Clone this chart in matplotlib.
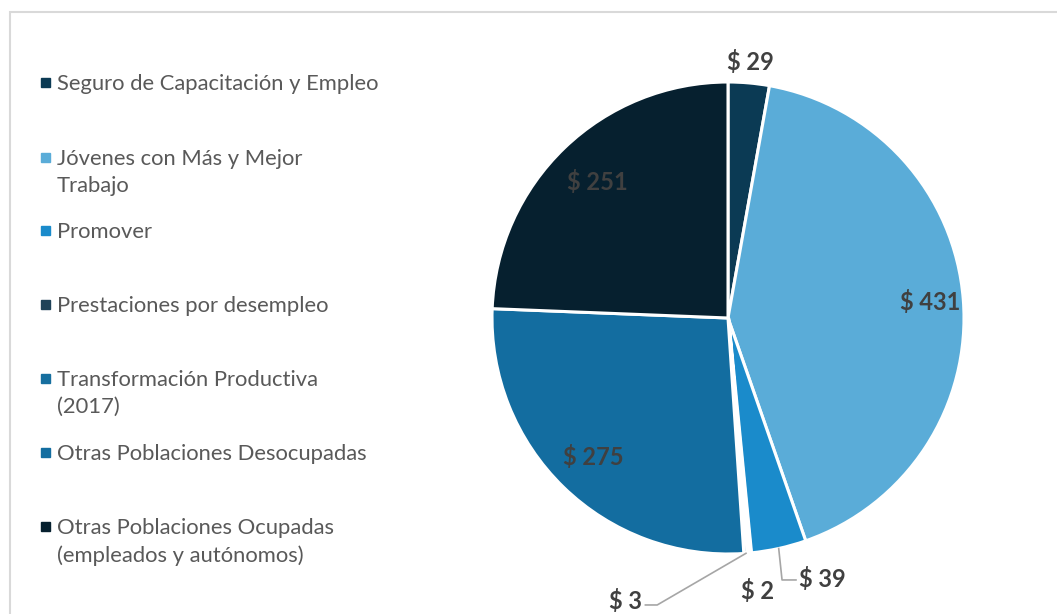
import numpy as np
import matplotlib.pyplot as plt
from matplotlib.patches import Rectangle

# Data
categories = [
    "Seguro de Capacitación y Empleo",
    "Jóvenes con Más y Mejor\nTrabajo",
    "Promover",
    "Prestaciones por desempleo",
    "Transformación Productiva\n(2017)",
    "Otras Poblaciones Desocupadas",
    "Otras Poblaciones Ocupadas\n(empleados y autónomos)",
]
values = [29, 431, 39, 2, 3, 275, 251]
colors = ["#0b3a54", "#5aacd8", "#1a8bcb", "#1f4258", "#166f9f", "#136da0", "#06202f"]

plt.rcParams["font.family"] = ["Lato", "DejaVu Sans"]

W, H = 1057, 614
fig = plt.figure(figsize=(W / 100, H / 100), dpi=100)

# light frame
fig.patches.append(Rectangle((10 / W, -0.05), 1.2, 1 - 12 / H + 0.05, transform=fig.transFigure,
                             fill=False, edgecolor="#d9d9d9", linewidth=1.5))

# pie axes: centre (728, 318) px, radius 236 px
R = 236
span = 1.3
cx, cy = 728 / W, 1 - 318 / H
w, h = span * R / W, span * R / H
ax = fig.add_axes([cx - w, cy - h, 2 * w, 2 * h])

wedges, _ = ax.pie(values, colors=colors, startangle=90, counterclock=False, radius=1,
                   wedgeprops=dict(edgecolor="white", linewidth=2.2))
# the two tiny slices read as a white gap in the original
for i in (3, 4):
    wedges[i].set_linewidth(3.0)
ax.set_xlim(-span, span)
ax.set_ylim(-span, span)
ax.axis("off")

total = sum(values)
cum = np.cumsum([0] + values[:-1])
mid = (cum + np.array(values) / 2) / total * 2 * np.pi  # clockwise from top

lab_kw = dict(fontsize=17, fontweight="bold", color="#404040", ha="center", va="center")
inner_r = {1: 0.86, 5: 0.82, 6: 0.80}
for i, r in inner_r.items():
    ax.text(r * np.sin(mid[i]), r * np.cos(mid[i]), f"$ {values[i]}", **lab_kw)
ax.text(1.09 * np.sin(mid[0]), 1.09 * np.cos(mid[0]), f"$ {values[0]}", **lab_kw)

# small slices with leader lines
lc = "#a6a6a6"
a2 = (np.sin(mid[2]), np.cos(mid[2]))
ax.plot([a2[0], 0.229, 0.288], [a2[1], -1.110, -1.110], color=lc, lw=1.2)
ax.text(0.40, -1.105, f"$ {values[2]}", **lab_kw)

ax.text(0.125, -1.155, f"$ {values[3]}", **lab_kw)

a4 = (np.sin(mid[4]), np.cos(mid[4]))
ax.plot([a4[0], -0.30, -0.35], [a4[1], -1.216, -1.216], color=lc, lw=1.2)
ax.text(-0.435, -1.20, f"$ {values[4]}", **lab_kw)

# legend
leg_y = [83, 158, 231, 305, 379, 453, 527]
for lab, col, y in zip(categories, colors, leg_y):
    fig.patches.append(Rectangle((41 / W, 1 - (y + 4) / H), 9 / W, 9 / H,
                                 transform=fig.transFigure, color=col))
    fig.text(57 / W, 1 - (y - 9) / H, lab, fontsize=15.8, color="#595959",
             ha="left", va="top", linespacing=1.45)

fig.savefig("out.png", dpi=100)
